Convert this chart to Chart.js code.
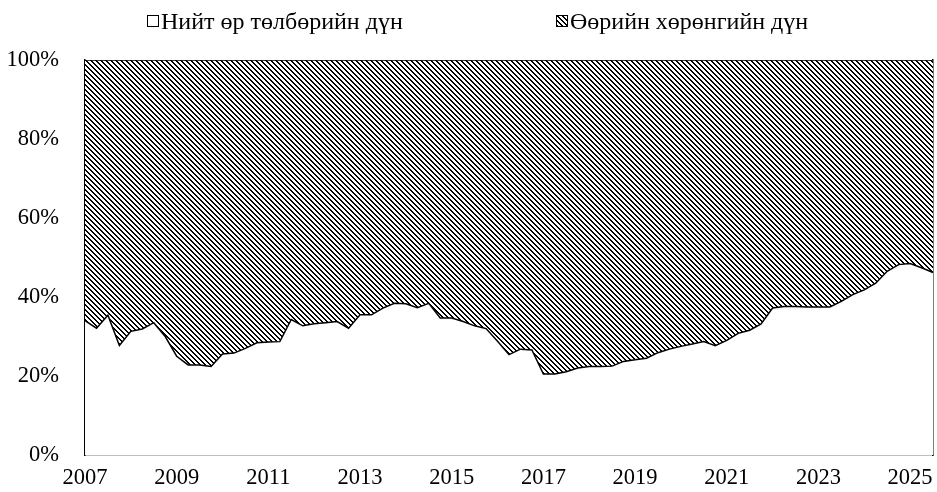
<!DOCTYPE html>
<html lang="mn">
<head>
  <meta charset="UTF-8">
  <title>Нийт өр төлбөр ба өөрийн хөрөнгө</title>
  <script src="https://cdn.jsdelivr.net/npm/chart.js"></script>
  <style>
    body { margin: 0; background: #fff; }
    #wrap { position: relative; width: 937px; height: 492px; }
    .lg { position: absolute; top: 8px; font-family: "Liberation Serif", "Times New Roman", serif; font-size: 24px; color: #000; white-space: nowrap; }
    .box { display: inline-block; width: 10px; height: 10px; border: 1.5px solid #000; margin-right: 2px; vertical-align: 2px; background: #fff; }
  </style>
</head>
<body>
  <div id="wrap">
    <canvas id="chart" width="937" height="492"></canvas>
    <div class="lg" style="left:147px"><span class="box"></span>Нийт өр төлбөрийн дүн</div>
    <div class="lg" style="left:556px"><span class="box" id="hatchBox"></span>Өөрийн хөрөнгийн дүн</div>
  </div>

  <script>
    // улирлын өгөгдөл 2007 I - 2025 III
    const years = [2007, 2025];
    const yearTicks = ['2007', '2009', '2011', '2013', '2015', '2017', '2019', '2021', '2023', '2025'];
    const percentTicks = [0, 20, 40, 60, 80, 100];

    const debtShare = [
      34.0, 32.1, 35.4, 27.7, 31.3, 31.9, 33.5, 30.0, 25.0, 22.8,
      22.8, 22.4, 25.6, 25.8, 27.0, 28.4, 28.6, 28.7, 34.3, 32.7,
      33.2, 33.5, 33.8, 32.1, 35.5, 35.5, 37.2, 38.4, 38.3, 37.3,
      38.4, 34.7, 34.7, 33.8, 32.7, 32.0, 28.8, 25.4, 26.8, 26.6,
      20.5, 20.5, 21.1, 22.0, 22.4, 22.4, 22.5, 23.7, 24.1, 24.5,
      25.9, 26.8, 27.5, 28.1, 28.7, 27.7, 29.0, 30.8, 31.6, 33.2,
      37.2, 37.6, 37.6, 37.5, 37.5, 37.5, 38.9, 40.6, 41.8, 43.5,
      46.5, 48.2, 48.5, 47.4, 46.2
    ];
    const equityShare = [
      66.0, 67.9, 64.6, 72.3, 68.7, 68.1, 66.5, 70.0, 75.0, 77.2,
      77.2, 77.6, 74.4, 74.2, 73.0, 71.6, 71.4, 71.3, 65.7, 67.3,
      66.8, 66.5, 66.2, 67.9, 64.5, 64.5, 62.8, 61.6, 61.7, 62.7,
      61.6, 65.3, 65.3, 66.2, 67.3, 68.0, 71.2, 74.6, 73.2, 73.4,
      79.5, 79.5, 78.9, 78.0, 77.6, 77.6, 77.5, 76.3, 75.9, 75.5,
      74.1, 73.2, 72.5, 71.9, 71.3, 72.3, 71.0, 69.2, 68.4, 66.8,
      62.8, 62.4, 62.4, 62.5, 62.5, 62.5, 61.1, 59.4, 58.2, 56.5,
      53.5, 51.8, 51.5, 52.6, 53.8
    ];

    const quarters = [];
    for (let y = years[0]; y <= years[1]; y++) {
      for (let q = 1; q <= 4; q++) quarters.push(y + '-Q' + q);
    }
    quarters.length = debtShare.length;

    // хар цагаан ташуу зураас
    const tile = document.createElement('canvas');
    tile.width = 10; tile.height = 10;
    const tctx = tile.getContext('2d');
    tctx.fillStyle = '#fff';
    tctx.fillRect(0, 0, 10, 10);
    tctx.fillStyle = '#000';
    for (let y = 0; y < 10; y++) {
      for (let x = 0; x < 10; x++) {
        if ((x - y + 10) % 5 < 2) tctx.fillRect(x, y, 1, 1);
      }
    }
    const ctx = document.getElementById('chart').getContext('2d');
    const hatch = ctx.createPattern(tile, 'repeat');
    document.getElementById('hatchBox').style.background = 'url(' + tile.toDataURL() + ')';

    const font = { family: '"Liberation Serif", "Times New Roman", serif', size: 22.5 };

    new Chart(ctx, {
      type: 'line',
      data: {
        labels: quarters,
        datasets: [
          {
            label: 'Нийт өр төлбөрийн дүн',
            data: debtShare,
            backgroundColor: '#fff',
            borderColor: '#000',
            borderWidth: 1.5,
            fill: 'origin',
            pointRadius: 0,
            tension: 0
          },
          {
            label: 'Өөрийн хөрөнгийн дүн',
            data: equityShare,
            backgroundColor: hatch,
            borderColor: '#000',
            borderWidth: 1.5,
            fill: '-1',
            pointRadius: 0,
            tension: 0
          }
        ]
      },
      options: {
        responsive: false,
        animation: false,
        layout: { padding: { top: 60, right: 4, left: 0, bottom: 0 } },
        plugins: { legend: { display: false }, tooltip: { enabled: false } },
        scales: {
          x: {
            grid: { display: false },
            border: { color: '#bfbfbf', width: 2 },
            ticks: {
              autoSkip: false,
              maxRotation: 0,
              padding: 2,
              color: '#000',
              font: font,
              callback: function(value, index) {
                const lbl = quarters[index];
                const yr = lbl.slice(0, 4);
                return lbl.endsWith('Q1') && yearTicks.includes(yr) ? yr : '';
              }
            },
            afterFit: function(scale) { scale.height = 37; }
          },
          y: {
            stacked: true,
            min: 0,
            max: 100,
            z: 1,
            grid: { display: false },
            border: { color: '#000', width: 1.5 },
            afterBuildTicks: function(scale) {
              scale.ticks = percentTicks.map(v => ({ value: v }));
            },
            ticks: {
              padding: 18,
              color: '#000',
              font: font,
              callback: v => v + '%'
            },
            afterFit: function(scale) { scale.width = 85; }
          },
          y2: {
            position: 'right',
            z: 1,
            grid: { display: false, drawTicks: false },
            border: { color: '#000', width: 1.5 },
            ticks: { display: false },
            afterFit: function(scale) { scale.width = 0; }
          }
        }
      }
    });
  </script>
</body>
</html>
